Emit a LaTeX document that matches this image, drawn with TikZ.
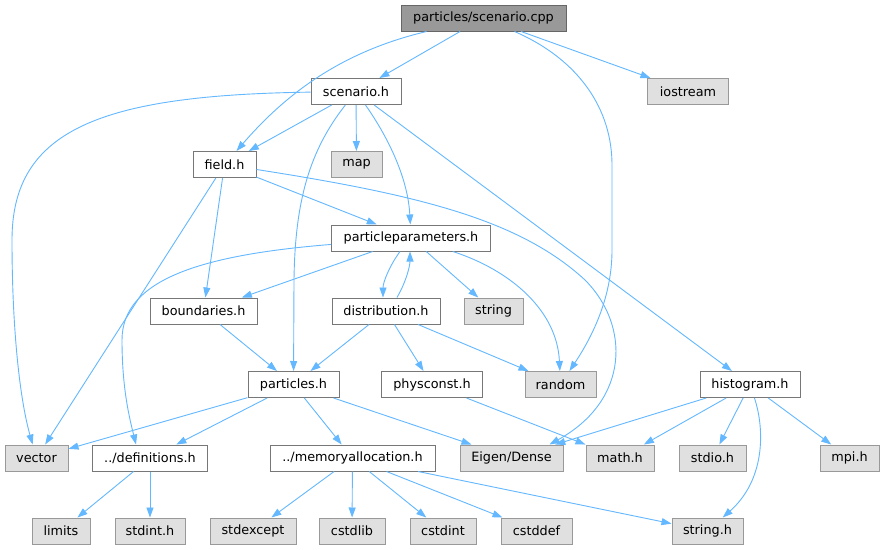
\documentclass[tikz,border=0pt]{standalone}
\usepackage{fontspec}
\newfontfamily\dvs{DejaVu Sans}
\usetikzlibrary{arrows.meta}
\definecolor{rootfill}{HTML}{999999}
\definecolor{rootline}{HTML}{666666}
\definecolor{nodeline}{HTML}{777777}
\definecolor{extfill}{HTML}{E0E0E0}
\definecolor{extline}{HTML}{999999}
\definecolor{edgec}{HTML}{63B8FF}
\tikzset{
  base/.style={draw, line width=1pt, minimum height=26pt, inner sep=0pt, font=\dvs\fontsize{12.8}{15}\selectfont, text=black},
  rootnode/.style={base, fill=rootfill, draw=rootline},
  innode/.style={base, fill=white, draw=nodeline},
  extnode/.style={base, fill=extfill, draw=extline},
  dep/.style={draw=edgec, line width=0.9pt, -{Triangle[length=10pt,width=7pt]}}
}
\begin{document}
\begin{tikzpicture}[x=1pt,y=-1pt]
\useasboundingbox[fill=white] (0,0) rectangle (885,549);
% nodes
\node[rootnode, minimum width=165pt] (cpp) at (483.5,18) {particles/scenario.cpp};
\node[innode, minimum width=90pt] (scen) at (356,91.5) {scenario.h};
\node[extnode, minimum width=81pt] (iostream) at (688,91.5) {iostream};
\node[innode, minimum width=63pt] (field) at (224.5,164.5) {field.h};
\node[extnode, minimum width=51pt] (map) at (356.5,164.5) {map};
\node[innode, minimum width=159pt] (pp) at (411,238) {particleparameters.h};
\node[innode, minimum width=107pt] (bound) at (203.5,311) {boundaries.h};
\node[innode, minimum width=108pt] (dist) at (386,311) {distribution.h};
\node[extnode, minimum width=59pt] (string) at (493.5,311) {string};
\node[innode, minimum width=91pt] (particles) at (293.5,384.5) {particles.h};
\node[innode, minimum width=101pt] (phys) at (432,384.5) {physconst.h};
\node[extnode, minimum width=71pt] (random) at (560.5,384.5) {random};
\node[innode, minimum width=100pt] (hist) at (750,384.5) {histogram.h};
\node[extnode, minimum width=63pt] (vector) at (36.5,458) {vector};
\node[innode, minimum width=115pt] (defs) at (150,458) {../definitions.h};
\node[innode, minimum width=165pt] (mem) at (352.5,458) {../memoryallocation.h};
\node[extnode, minimum width=103pt] (eigen) at (511.5,458) {Eigen/Dense};
\node[extnode, minimum width=68pt] (math) at (620,458) {math.h};
\node[extnode, minimum width=67pt] (stdio) at (712.5,458) {stdio.h};
\node[extnode, minimum width=59pt] (mpi) at (849.5,458) {mpi.h};
\node[extnode, minimum width=58pt] (limits) at (61,531) {limits};
\node[extnode, minimum width=70pt] (stdint) at (150,531) {stdint.h};
\node[extnode, minimum width=86pt] (stdexcept) at (253,531) {stdexcept};
\node[extnode, minimum width=66pt] (cstdlib) at (352,531) {cstdlib};
\node[extnode, minimum width=66pt] (cstdint) at (443,531) {cstdint};
\node[extnode, minimum width=71pt] (cstddef) at (536.5,531) {cstddef};
\node[extnode, minimum width=71pt] (stringh) at (707.5,531) {string.h};
% edges from scenario.cpp
\draw[dep] (cpp) .. controls (340,52) and (285,95) .. ([xshift=12pt]field.north);
\draw[dep] (cpp) -- (scen);
\draw[dep] (cpp) .. controls (580,60) and (612,110) .. (612,165) -- (612,250) .. controls (612,300) and (590,340) .. (random);
\draw[dep] (cpp) -- (iostream);
% edges from scenario.h
\draw[dep] (scen) .. controls (100,95) and (12,130) .. (12,240) .. controls (12,330) and (20,400) .. (vector);
\draw[dep] (scen) -- (field);
\draw[dep] (scen) -- (map);
\draw[dep] (scen) .. controls (310,150) and (295,200) .. (294,280) -- (particles);
\draw[dep] (scen) .. controls (390,140) and (408,180) .. (pp);
\draw[dep] (scen) -- (hist);
% edges from field.h
\draw[dep] (field) -- (vector);
\draw[dep] (field) -- (bound);
\draw[dep] (field) -- (pp);
\draw[dep] (field) .. controls (420,195) and (520,220) .. (585,280) .. controls (630,325) and (630,400) .. ([xshift=38pt]eigen.north);
% edges from particleparameters.h
\draw[dep] (pp) .. controls (200,255) and (122,280) .. (122,340) .. controls (122,390) and (130,420) .. ([xshift=-14pt]defs.north);
\draw[dep] (pp) -- (bound);
\draw[dep] ([xshift=-11pt]pp.south) .. controls (390,265) and (383,282) .. ([xshift=-3pt]dist.north);
\draw[dep] (pp) -- (string);
\draw[dep] (pp) .. controls (510,270) and (557,310) .. (random);
% edges from distribution.h
\draw[dep] ([xshift=11pt]dist.north) .. controls (407,280) and (410,265) .. ([xshift=-1pt]pp.south);
\draw[dep] (dist) -- (particles);
\draw[dep] (dist) -- (phys);
\draw[dep] (dist) -- (random);
% boundaries
\draw[dep] (bound) -- (particles);
% particles.h
\draw[dep] (particles) -- (vector);
\draw[dep] (particles) -- (defs);
\draw[dep] (particles) -- (mem);
\draw[dep] (particles) -- (eigen);
% physconst
\draw[dep] (phys) -- (math);
% histogram
\draw[dep] (hist) -- (eigen);
\draw[dep] (hist) -- (math);
\draw[dep] (hist) -- (stdio);
\draw[dep] (hist) -- (mpi);
\draw[dep] (hist) .. controls (765,430) and (765,480) .. (stringh);
% definitions
\draw[dep] (defs) -- (limits);
\draw[dep] (defs) -- (stdint);
% memoryallocation
\draw[dep] (mem) -- (stdexcept);
\draw[dep] (mem) -- (cstdlib);
\draw[dep] (mem) -- (cstdint);
\draw[dep] (mem) -- (cstddef);
\draw[dep] (mem) -- (stringh);
\end{tikzpicture}
\end{document}
